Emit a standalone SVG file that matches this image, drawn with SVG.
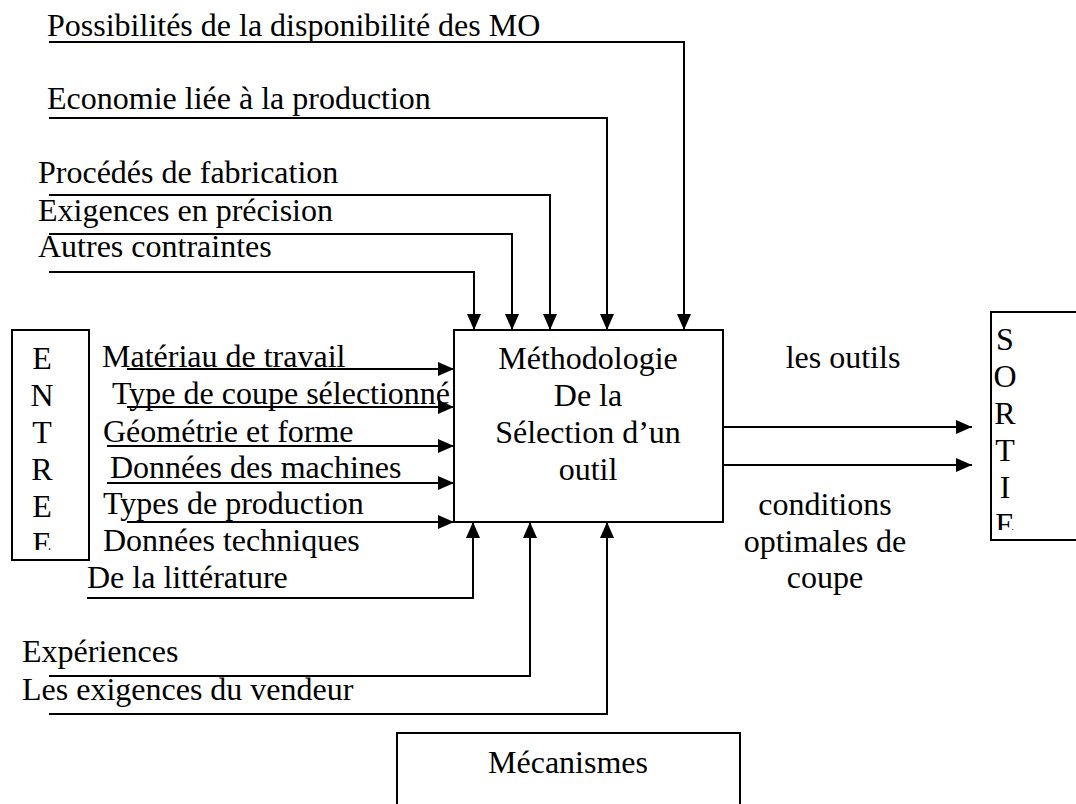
<svg xmlns="http://www.w3.org/2000/svg" width="1076" height="804" viewBox="0 0 1076 804">
<style>
text{font-family:"Liberation Serif","Times New Roman",serif;font-size:32px;fill:#000}
.c{text-anchor:middle}
.ln{fill:none;stroke:#000;stroke-width:2}
.bx{fill:#fff;stroke:#000;stroke-width:2}
</style>
<defs>
<marker id="ah" viewBox="0 0 16 14" refX="16" refY="7" markerWidth="16" markerHeight="14" markerUnits="userSpaceOnUse" orient="auto">
<path d="M0,0 L16,7 L0,14 Z" fill="#000"/>
</marker>
<clipPath id="ce"><rect x="12" y="330" width="77" height="220"/></clipPath>
<clipPath id="cs"><rect x="991" y="312" width="85" height="218"/></clipPath>
</defs>
<rect width="1076" height="804" fill="#fff"/>

<g id="labels">
<text x="47" y="36">Possibilités de la disponibilité des MO</text>
<text x="47" y="109">Economie liée à la production</text>
<text x="38" y="183">Procédés de fabrication</text>
<text x="38" y="221">Exigences en précision</text>
<text x="38" y="257">Autres contraintes</text>
<text x="102" y="367">Matériau de travail</text>
<text x="112" y="404">Type de coupe sélectionné</text>
<text x="103" y="442">Géométrie et forme</text>
<text x="110" y="478">Données des machines</text>
<text x="103" y="514">Types de production</text>
<text x="103" y="551">Données techniques</text>
<text x="87" y="588">De la littérature</text>
<text x="22" y="662">Expériences</text>
<text x="22" y="700">Les exigences du vendeur</text>
<text class="c" x="843" y="368">les outils</text>
<text class="c" x="825" y="515">conditions</text>
<text class="c" x="825" y="552">optimales de</text>
<text class="c" x="825" y="588">coupe</text>
</g>

<g id="connectors">
<polyline class="ln" points="49,42 684,42 684,330" marker-end="url(#ah)"/>
<polyline class="ln" points="49,118 607,118 607,330" marker-end="url(#ah)"/>
<polyline class="ln" points="49,195 550,195 550,330" marker-end="url(#ah)"/>
<polyline class="ln" points="49,234 512,234 512,330" marker-end="url(#ah)"/>
<polyline class="ln" points="49,272 474,272 474,330" marker-end="url(#ah)"/>
<line class="ln" x1="127" y1="369" x2="454" y2="369" marker-end="url(#ah)"/>
<line class="ln" x1="127" y1="407" x2="454" y2="407" marker-end="url(#ah)"/>
<line class="ln" x1="107" y1="446" x2="454" y2="446" marker-end="url(#ah)"/>
<line class="ln" x1="107" y1="483" x2="454" y2="483" marker-end="url(#ah)"/>
<line class="ln" x1="127" y1="522" x2="454" y2="522" marker-end="url(#ah)"/>
<polyline class="ln" points="87,598 473,598 473,522" marker-end="url(#ah)"/>
<polyline class="ln" points="49,676 530,676 530,522" marker-end="url(#ah)"/>
<polyline class="ln" points="49,714 607,714 607,522" marker-end="url(#ah)"/>
<line class="ln" x1="723" y1="427" x2="972" y2="427" marker-end="url(#ah)"/>
<line class="ln" x1="723" y1="465" x2="972" y2="465" marker-end="url(#ah)"/>
</g>

<g id="methodologie">
<rect class="bx" x="454" y="330" width="269" height="192"/>
<text class="c" x="588" y="369">Méthodologie</text>
<text class="c" x="588" y="406">De la</text>
<text class="c" x="588" y="443">Sélection d’un</text>
<text class="c" x="588" y="480">outil</text>
</g>

<g id="entree">
<rect class="bx" x="12" y="330" width="77" height="230"/>
<g clip-path="url(#ce)">
<text class="c" x="42" y="369">E</text>
<text class="c" x="42" y="406">N</text>
<text class="c" x="42" y="443">T</text>
<text class="c" x="42" y="480">R</text>
<text class="c" x="42" y="517">E</text>
<text class="c" x="42" y="554">E</text>
</g>
</g>

<g id="sortie">
<rect class="bx" x="991" y="312" width="90" height="228"/>
<g clip-path="url(#cs)">
<text class="c" x="1005" y="350">S</text>
<text class="c" x="1005" y="387">O</text>
<text class="c" x="1005" y="424">R</text>
<text class="c" x="1005" y="461">T</text>
<text class="c" x="1005" y="498">I</text>
<text class="c" x="1005" y="535">E</text>
</g>
</g>

<g id="mecanismes">
<polyline class="ln" points="397,806 397,733 740,733 740,806"/>
<text class="c" x="568" y="773">Mécanismes</text>
</g>
</svg>
